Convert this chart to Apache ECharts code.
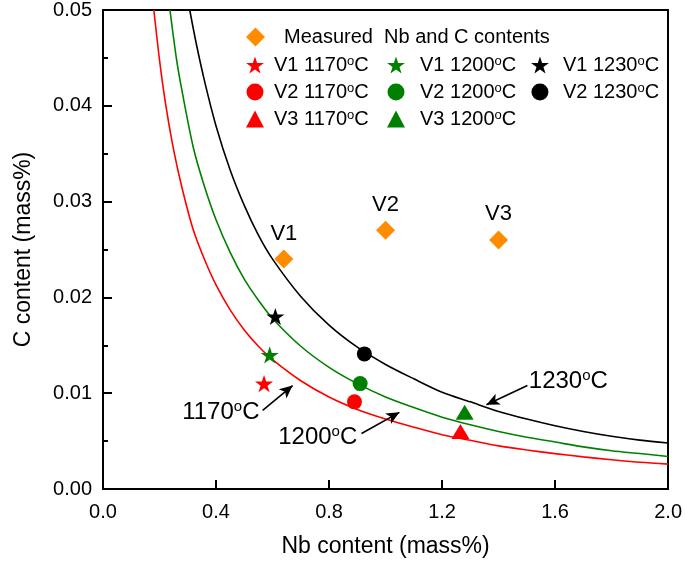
<!DOCTYPE html>
<html>
<head>
<meta charset="utf-8">
<script src="https://cdn.jsdelivr.net/npm/echarts@6/dist/echarts.min.js"></script>
<style>
html,body{margin:0;padding:0;background:#fff;}
#c{width:685px;height:567px;}
</style>
</head>
<body>
<div id="c"></div>
<script>
// ---- Data ----
const xTicks = [0.0, 0.4, 0.8, 1.2, 1.6, 2.0];
const yTicks = [0.00, 0.01, 0.02, 0.03, 0.04, 0.05];

// Solubility curves: Nb values and C values
const nb1170 = [0.18, 0.20, 0.22, 0.25, 0.28, 0.32, 0.36, 0.40, 0.45, 0.50, 0.55, 0.60, 0.70, 0.80, 0.90, 1.00, 1.10, 1.20, 1.30, 1.40, 1.50, 1.60, 1.70, 1.80, 1.90, 2.00];
const c1170  = [0.0500, 0.0448, 0.0405, 0.0354, 0.0314, 0.0270, 0.0239, 0.0213, 0.0187, 0.0166, 0.0149, 0.0135, 0.0113, 0.0096, 0.0083, 0.0073, 0.00645, 0.00567, 0.00508, 0.0045, 0.00407, 0.00369, 0.00335, 0.00306, 0.00279, 0.0026];
const nb1200 = [0.237, 0.26, 0.28, 0.32, 0.36, 0.40, 0.45, 0.50, 0.55, 0.60, 0.70, 0.80, 0.90, 1.00, 1.10, 1.20, 1.30, 1.40, 1.50, 1.60, 1.70, 1.80, 1.90, 2.00];
const c1200  = [0.0500, 0.0449, 0.0415, 0.0356, 0.0315, 0.0281, 0.0247, 0.0219, 0.0197, 0.0178, 0.0149, 0.0127, 0.0110, 0.0096, 0.0085, 0.0075, 0.0067, 0.0060, 0.0054, 0.0049, 0.0044, 0.0040, 0.0037, 0.0034];
const nb1230 = [0.307, 0.33, 0.36, 0.40, 0.45, 0.50, 0.55, 0.60, 0.70, 0.80, 0.90, 1.00, 1.10, 1.20, 1.30, 1.40, 1.50, 1.60, 1.70, 1.80, 1.90, 2.00];
const c1230  = [0.0500, 0.0465, 0.0425, 0.0379, 0.0333, 0.0296, 0.0265, 0.0240, 0.0201, 0.0171, 0.0148, 0.0130, 0.0115, 0.0101, 0.0091, 0.0081, 0.0073, 0.0066, 0.0060, 0.0055, 0.0051, 0.0048];

// Measured contents
const measuredNb = [0.64, 1.00, 1.40];
const measuredC = [0.024, 0.027, 0.026];
const measuredLabels = ['V1', 'V2', 'V3'];

// Calculated points
const ptNames = ['V1 1170','V2 1170','V3 1170','V1 1200','V2 1200','V3 1200','V1 1230','V2 1230'];
const ptNb = [0.57, 0.89, 1.265, 0.59, 0.91, 1.28, 0.61, 0.925];
const ptC  = [0.011, 0.0091, 0.0060, 0.014, 0.011, 0.0080, 0.018, 0.0141];

// Annotations: label text position and arrow from/to (data coords)
const annoTemps = ['1170', '1200', '1230'];
const annoText = [[0.417, 0.0080], [0.760, 0.0054], [1.647, 0.0112]];
const annoFrom = [[0.565, 0.0082], [0.915, 0.0058], [1.502, 0.0108]];
const annoTo   = [[0.671, 0.0108], [1.049, 0.0080], [1.357, 0.0088]];

// ---- Styling ----
const FONT = '"Liberation Sans", Arial, Helvetica, sans-serif';
const RED = '#ff0000', GREEN = '#008000', BLACK = '#000000', ORANGE = '#ff8c00';
const STAR = 'path://M50,2 L61.8,37.6 L99,37.6 L69,59.6 L80.4,95 L50,73.2 L19.6,95 L31,59.6 L1,37.6 L38.2,37.6 Z';
const colorOf = n => n.endsWith('1170') ? RED : (n.endsWith('1200') ? GREEN : BLACK);
const symOf = n => n.startsWith('V1') ? STAR : (n.startsWith('V2') ? 'circle' : 'triangle');
const sizeOf = n => n.startsWith('V1') ? 18 : (n.startsWith('V2') ? 15 : [18, 15]);

const series = [];
[[nb1170, c1170, RED], [nb1200, c1200, GREEN], [nb1230, c1230, BLACK]].forEach(([xs, ys, c]) => {
  series.push({
    type: 'line', data: xs.map((x, i) => [x, ys[i]]), showSymbol: false, smooth: 0.3,
    lineStyle: { color: c, width: 1.6 }, silent: true, z: 2, clip: true
  });
});

series.push({
  name: 'Measured  Nb and C contents', type: 'scatter',
  data: measuredNb.map((x, i) => [x, measuredC[i]]),
  symbol: 'diamond', symbolSize: [19, 19],
  itemStyle: { color: ORANGE, opacity: 1 }, z: 5,
  label: {
    show: true, position: 'top', distance: 5,
    formatter: p => measuredLabels[p.dataIndex],
    fontFamily: FONT, fontSize: 22, color: '#000'
  }
});

ptNames.forEach((n, i) => {
  series.push({
    name: n, type: 'scatter', data: [[ptNb[i], ptC[i]]],
    symbol: symOf(n), symbolSize: sizeOf(n), symbolKeepAspect: true,
    itemStyle: { color: colorOf(n), opacity: 1 }, z: 6
  });
});

// annotation arrows
series.push({
  type: 'line', data: [], silent: true,
  markLine: {
    silent: true, animation: false,
    symbol: ['none', 'arrow'], symbolSize: [9, 13],
    lineStyle: { color: '#000', width: 1.6, type: 'solid', opacity: 1 },
    itemStyle: { color: '#000', opacity: 1 },
    label: { show: false },
    data: annoFrom.map((f, i) => [{ coord: f }, { coord: annoTo[i] }])
  }
});
// annotation texts
series.push({
  type: 'scatter', silent: true, symbolSize: 0,
  itemStyle: { opacity: 1, color: '#000' },
  data: annoText.map(p => ({ value: p })),
  label: {
    show: true, position: 'inside', color: '#000', opacity: 1,
    formatter: p => '{n|' + annoTemps[p.dataIndex] + '}{s|o}{n|C}',
    rich: {
      n: { fontFamily: FONT, fontSize: 24, lineHeight: 26, color: '#000' },
      s: { fontFamily: FONT, fontSize: 15, lineHeight: 15, verticalAlign: 'top', color: '#000' }
    }
  },
  z: 7
});

const legendRich = {
  n: { fontFamily: FONT, fontSize: 20, lineHeight: 20, color: '#000' },
  s: { fontFamily: FONT, fontSize: 13, lineHeight: 13, verticalAlign: 'top', color: '#000' }
};
const mkLegend = (names, left, pad) => ({
  orient: 'vertical', left: left, top: 55, itemGap: 7, padding: 0,
  itemWidth: 18, itemHeight: 17, selectedMode: false,
  data: names.map(n => ({ name: n, icon: symOf(n) })),
  formatter: n => '{n|' + n + '}{s|o}{n|C}',
  textStyle: { rich: legendRich, padding: [0, 0, 0, pad] }
});

const option = {
  animation: false,
  backgroundColor: '#fff',
  grid: { left: 103, right: 16, top: 10, bottom: 78, containLabel: false },
  legend: [
    {
      left: 246, top: 27, itemWidth: 19, itemHeight: 19, selectedMode: false, padding: 0,
      data: [{ name: 'Measured  Nb and C contents', icon: 'diamond' }],
      textStyle: { fontFamily: FONT, fontSize: 20, color: '#000', padding: [0, 0, 0, 14] }
    },
    mkLegend(['V1 1170', 'V2 1170', 'V3 1170'], 246, 5),
    mkLegend(['V1 1200', 'V2 1200', 'V3 1200'], 387, 10),
    mkLegend(['V1 1230', 'V2 1230'], 531, 9)
  ],
  xAxis: [{
    type: 'value', min: xTicks[0], max: xTicks[xTicks.length - 1], interval: 0.4,
    name: 'Nb content (mass%)', nameLocation: 'middle', nameGap: 46,
    nameTextStyle: { fontFamily: FONT, fontSize: 23, color: '#000' },
    axisLine: { show: true, onZero: false, lineStyle: { color: '#000', width: 2 } },
    axisTick: { show: true, inside: true, length: 9, lineStyle: { color: '#000', width: 2 } },
    axisLabel: { margin: 13, fontFamily: FONT, fontSize: 20, color: '#000', formatter: v => v.toFixed(1) },
    splitLine: { show: false }
  }, {
    type: 'value', position: 'top', min: xTicks[0], max: xTicks[xTicks.length - 1],
    axisLine: { show: true, onZero: false, lineStyle: { color: '#000', width: 2 } },
    axisTick: { show: false }, axisLabel: { show: false }, splitLine: { show: false }
  }],
  yAxis: [{
    type: 'value', min: yTicks[0], max: yTicks[yTicks.length - 1], interval: 0.01,
    name: 'C content (mass%)', nameLocation: 'middle', nameGap: 68, nameRotate: 90,
    nameTextStyle: { fontFamily: FONT, fontSize: 23, color: '#000' },
    axisLine: { show: true, onZero: false, lineStyle: { color: '#000', width: 2 } },
    axisTick: { show: true, inside: true, length: 9, lineStyle: { color: '#000', width: 2 } },
    minorTick: { show: true, splitNumber: 2, length: 5, lineStyle: { color: '#000', width: 2 } },
    axisLabel: { margin: 11, fontFamily: FONT, fontSize: 20, color: '#000', formatter: v => v.toFixed(2) },
    splitLine: { show: false }, minorSplitLine: { show: false }
  }, {
    type: 'value', position: 'right', min: yTicks[0], max: yTicks[yTicks.length - 1],
    axisLine: { show: true, onZero: false, lineStyle: { color: '#000', width: 2 } },
    axisTick: { show: false }, axisLabel: { show: false }, splitLine: { show: false }
  }],
  series: series
};

const chart = echarts.init(document.getElementById('c'), null, { renderer: 'canvas' });
chart.setOption(option);
</script>
</body>
</html>
